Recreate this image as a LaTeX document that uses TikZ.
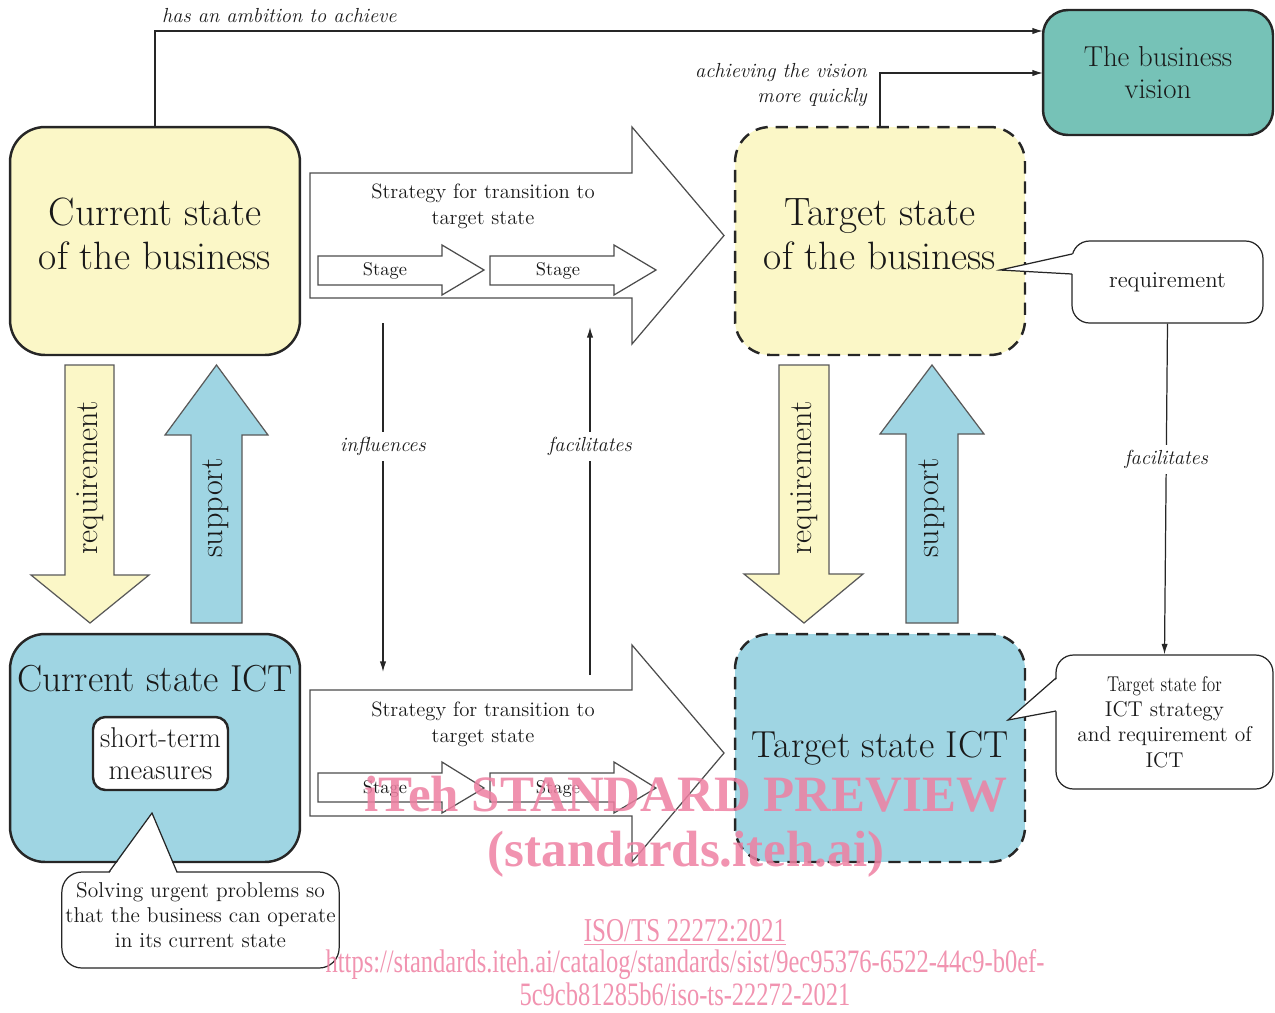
\documentclass[tikz,border=0pt]{standalone}
\usepackage{fontspec}
\usepackage{xcolor}
\usepackage{tikz}
\usetikzlibrary{arrows.meta}

\newfontfamily\wmfont{Liberation Serif}
\newfontfamily\wmnarrow[FakeStretch=0.75]{Liberation Serif}

\definecolor{bizyellow}{RGB}{251,247,199}
\definecolor{ictblue}{RGB}{159,213,227}
\definecolor{visionteal}{RGB}{118,194,183}
\definecolor{wmpink}{RGB}{238,128,162}

\begin{document}
\begin{tikzpicture}[x=0.02cm, y=-0.02cm, every node/.style={align=center, text=black!90}, statebox/.style={rectangle, rounded corners=0.7cm, draw=black!85, line width=1.4pt, minimum width=5.8cm, minimum height=4.56cm, font=\fontsize{22.5}{25}\selectfont}, targetbox/.style={statebox, dash pattern=on 7pt off 4.5pt}, note/.style={rectangle, rounded corners=0.35cm, draw=black!85, line width=0.7pt, fill=white, inner sep=2pt, font=\fontsize{12.2}{14.3}\selectfont}, pointer/.style={draw=black!85, line width=0.7pt}, hollow/.style={draw=black!70, line width=0.7pt, fill=white}, fatarrow/.style={draw=black!65, line width=0.7pt}, strategy/.style={font=\fontsize{11.8}{14.7}\selectfont}, stagelbl/.style={font=\fontsize{10.5}{12}\selectfont}, fatlbl/.style={rotate=90, font=\fontsize{18.3}{20}\selectfont}, link/.style={-{Latex[length=6pt,width=3.6pt]}, line width=0.7pt, draw=black!85}, linklbl/.style={font=\itshape\fontsize{11.6}{14}\selectfont}, gaplbl/.style={linklbl, fill=white, inner sep=3pt}, wmark/.style={text=wmpink, text opacity=0.85}]
\useasboundingbox (0,0) rectangle (1275,1012);

% requirement / support arrows
\draw[fatarrow, fill=bizyellow] (65,365) -- (114,365) -- (114,575) -- (149,575) -- (90,623) -- (31,575) -- (65,575) -- cycle;
\draw[fatarrow, fill=ictblue] (191,623) -- (242,623) -- (242,435) -- (268,435) -- (216.5,365) -- (165,435) -- (191,435) -- cycle;
\draw[fatarrow, fill=bizyellow] (779,365) -- (829,365) -- (829,574) -- (863,574) -- (804,623) -- (744,574) -- (779,574) -- cycle;
\draw[fatarrow, fill=ictblue] (906,623) -- (958,623) -- (958,434) -- (984,434) -- (932,365) -- (880,434) -- (906,434) -- cycle;
\node[fatlbl] (curreq) at (90,478) {requirement};
\node[fatlbl] (cursup) at (216,508) {support};
\node[fatlbl] (tgtreq) at (804,478) {requirement};
\node[fatlbl] (tgtsup) at (932,508) {support};

% states
\node[statebox, fill=bizyellow, text depth=8pt] (curbiz) at (155,241) {Current state\\of the business};
\node[targetbox, fill=bizyellow, text depth=8pt] (tgtbiz) at (880,241) {Target state\\of the business};
\node[statebox, fill=ictblue] (curict) at (155,748) {};
\node[font=\fontsize{21.4}{25}\selectfont] (curictlbl) at (155,679) {Current state ICT};
\node[rectangle, rounded corners=0.25cm, draw=black!85, line width=1.4pt, fill=white, minimum width=2.7cm, minimum height=1.46cm, font=\fontsize{16.3}{18}\selectfont] (shortterm) at (160.5,753.5) {short-term\\measures};
\node[targetbox, fill=ictblue, font=\fontsize{21.4}{25}\selectfont] (tgtict) at (880,748) {Target state ICT};
\node[statebox, fill=visionteal, rounded corners=0.5cm, minimum width=4.6cm, minimum height=2.5cm, font=\fontsize{16.4}{18}\selectfont] (vision) at (1158,72.5) {The business\\vision};

% strategy arrows
\draw[hollow] (310,173) -- (632,173) -- (632,127) -- (724,235.5) -- (632,344) -- (632,298) -- (310,298) -- cycle;
\draw[hollow] (318,256) -- (442,256) -- (442,245) -- (484,270) -- (442,295) -- (442,285) -- (318,285) -- cycle;
\draw[hollow] (490,256) -- (614,256) -- (614,245) -- (656,270) -- (614,295) -- (614,285) -- (490,285) -- cycle;
\node[strategy] (bizplan) at (483,206) {Strategy for transition to\\target state};
\node[stagelbl] (bizstage1) at (385,271) {Stage};
\node[stagelbl] (bizstage2) at (558,271) {Stage};

\draw[hollow] (310,690) -- (632,690) -- (632,645) -- (724,753) -- (632,862) -- (632,816) -- (310,816) -- cycle;
\draw[hollow] (318,773) -- (442,773) -- (442,762) -- (484,788) -- (442,813) -- (442,802) -- (318,802) -- cycle;
\draw[hollow] (490,773) -- (614,773) -- (614,762) -- (656,788) -- (614,813) -- (614,802) -- (490,802) -- cycle;
\node[strategy] (ictplan) at (483,724) {Strategy for transition to\\target state};
\node[stagelbl] (ictstage1) at (385,789) {Stage};
\node[stagelbl] (ictstage2) at (558,789) {Stage};

% connectors
\coordinate (visionin1) at (1043,31);
\coordinate (visionin2) at (1043,73);
\coordinate (inftop) at (383,323);
\coordinate (infbot) at (383,672);
\coordinate (facbot) at (590,675);
\coordinate (factop) at (590,327);
\draw[link] (curbiz.north) |- (visionin1);
\draw[link] (tgtbiz.north) |- (visionin2);
\node[linklbl, anchor=west] (ambitionlbl) at (156,16) {has an ambition to achieve};
\node[linklbl, align=right, anchor=east] (quicklbl) at (873,85) {achieving the vision\\more quickly};
\draw[link] (inftop) -- node[gaplbl, pos=0.354] (inflbl) {influences} (infbot);
\draw[link] (facbot) -- node[gaplbl, pos=0.658] (faclbl) {facilitates} (factop);

% notes
\node[note, minimum width=5.5cm, minimum height=1.92cm, rounded corners=0.4cm, text depth=6pt] (urgent) at (200.5,920) {Solving urgent problems so\\that the business can operate\\in its current state};
\fill[white] (109,874) -- (152,813) -- (177,874) -- cycle;
\draw[pointer] (109,872) -- (152,813) -- (177,872);

\node[note, minimum width=3.82cm, minimum height=1.64cm, font=\fontsize{13}{15}\selectfont] (reqnote) at (1167.5,282) {requirement};
\fill[white] (1074,254) -- (1000,270) -- (1074,274) -- cycle;
\draw[pointer] (1072,254) -- (1000,270) -- (1072,274);

\node[note, minimum width=4.34cm, minimum height=2.68cm] (ictnote) at (1164.5,722) {\scalebox{0.8}[1]{Target state for}\\ICT strategy\\and requirement of\\ICT};
\fill[white] (1058,678) -- (1008,720) -- (1058,711) -- cycle;
\draw[pointer] (1056,678) -- (1008,720) -- (1056,711);

\draw[link] (reqnote.south) -- node[gaplbl, pos=0.41] (fac2lbl) {facilitates} (ictnote.north);

% watermark
\node[wmark, font=\wmfont\bfseries\fontsize{29}{34}\selectfont] (wmtitle) at (686,794) {iTeh STANDARD PREVIEW};
\node[wmark, font=\wmfont\bfseries\fontsize{29}{34}\selectfont] (wmsite) at (686,854) {(standards.iteh.ai)};
\node[wmark, font=\wmnarrow\fontsize{19}{22}\selectfont] (wmiso) at (685,932) {\underline{ISO/TS 22272:2021}};
\node[wmark, font=\wmnarrow\fontsize{18.6}{22}\selectfont] (wmurl1) at (685,965) {https://standards.iteh.ai/catalog/standards/sist/9ec95376-6522-44c9-b0ef-};
\node[wmark, font=\wmnarrow\fontsize{18.6}{22}\selectfont] (wmurl2) at (685,994) {5c9cb81285b6/iso-ts-22272-2021};
\end{tikzpicture}
\end{document}
